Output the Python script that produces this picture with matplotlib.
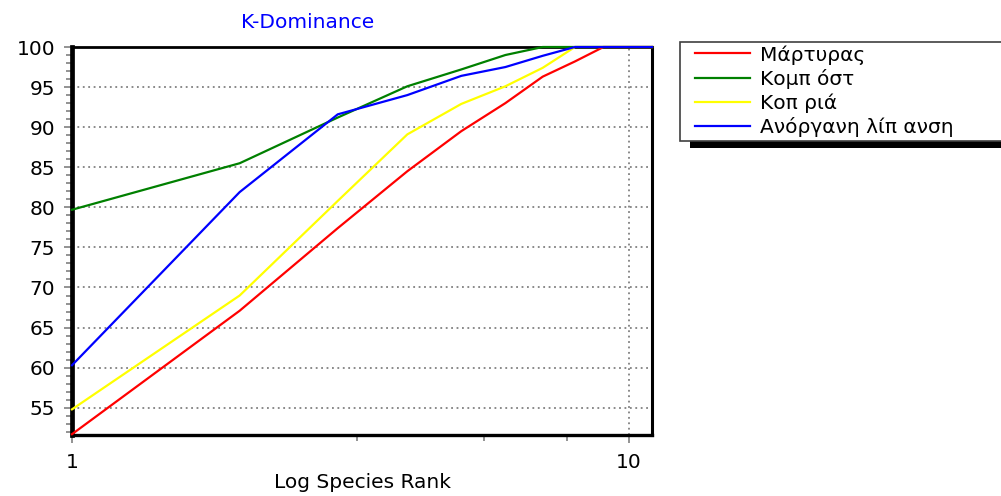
import matplotlib
matplotlib.use("Agg")
import matplotlib.pyplot as plt
from matplotlib.patches import Rectangle
from matplotlib.ticker import FixedLocator, NullFormatter, FixedFormatter

plt.rcParams['font.family'] = ['DejaVu Sans']

ranks = [1, 2, 3, 4, 5, 6, 7, 8, 9, 10, 11]
series_names = ["Μάρτυρας", "Κομπ όστ", "Κοπ ριά", "Ανόργανη λίπ ανση"]
martyras = [51.7, 67.1, 77.4, 84.5, 89.5, 93.0, 96.3, 98.2, 100, 100, 100]
kompost = [79.7, 85.5, 91.2, 95.1, 97.2, 99.0, 100, 100, 100, 100, 100]
kopria = [54.8, 69.0, 80.8, 89.1, 92.9, 95.1, 97.4, 100, 100, 100, 100]
anorgani = [60.3, 81.9, 91.6, 94.0, 96.4, 97.5, 98.9, 100, 100, 100, 100]
colors = ["#FF0000", "#008000", "#FFFF00", "#0000FF"]

y_major = [55, 60, 65, 70, 75, 80, 85, 90, 95, 100]
x_major = [1, 10]
x_minor = [3.25, 5.5, 7.75]

W, H = 1001, 496
fig = plt.figure(figsize=(W / 100, H / 100), dpi=100)
ax = fig.add_axes([72 / W, (H - 435) / H, 580 / W, (435 - 47) / H])

lines = []
for vals, c, name in zip([martyras, kompost, kopria, anorgani], colors, series_names):
    ln, = ax.plot(ranks, vals, color=c, lw=1.6, label=name, zorder=3, clip_on=False)
    lines.append(ln)

ax.set_xscale('log')
ax.set_xlim(1, 11)
ax.set_ylim(51.6, 100)

ax.xaxis.set_major_locator(FixedLocator(x_major))
ax.xaxis.set_major_formatter(FixedFormatter([str(v) for v in x_major]))
ax.xaxis.set_minor_locator(FixedLocator(x_minor))
ax.xaxis.set_minor_formatter(NullFormatter())
ax.yaxis.set_major_locator(FixedLocator(y_major))
ax.yaxis.set_minor_locator(FixedLocator([v for v in range(52, 100) if v % 5 != 0]))

ax.tick_params(axis='both', which='major', direction='out', color='#808080',
               length=6, width=1.2, labelsize=14.5, labelcolor='black')
ax.tick_params(axis='y', which='major', pad=6)
ax.tick_params(axis='x', which='major', pad=7)
ax.tick_params(axis='both', which='minor', direction='out', color='#808080',
               length=4, width=1.2)

for v in y_major[:-1]:
    ax.axhline(v, color='#808080', lw=1.3, ls=(0, (1, 2)), zorder=1)
ax.axvline(10, color='#808080', lw=1.3, ls=(0, (1, 2)), zorder=1)

ax.spines['left'].set_linewidth(3.4)
ax.spines['bottom'].set_linewidth(2.4)
ax.spines['top'].set_linewidth(2.0)
ax.spines['right'].set_linewidth(2.2)
for s in ax.spines.values():
    s.set_color('black')

ax.set_xlabel("Log Species Rank", fontsize=14.5)
ax.xaxis.set_label_coords(0.5, (435 - 483) / 388)
ax.xaxis.label.set_va('center')
fig.text(308 / W, 1 - 23 / H, "K-Dominance", color='#0000FF', fontsize=14.5,
         ha='center', va='center')

# legend frame + shadow (pixel coords)
fig.patches.append(Rectangle((690 / W, 1 - 148 / H), 330 / W, (148 - 50) / H,
                             transform=fig.transFigure, facecolor='black',
                             edgecolor='none', zorder=0))
fig.patches.append(Rectangle((680 / W, 1 - 141 / H), 340 / W, (141 - 42) / H,
                             transform=fig.transFigure, facecolor='white',
                             edgecolor='#404040', lw=1.2, zorder=1))

leg = fig.legend(handles=lines, labels=series_names, loc='upper left',
                 bbox_to_anchor=(692 / W, 1 - 42 / H), frameon=False,
                 fontsize=14.5, handlelength=2.75, handletextpad=0.5,
                 labelspacing=0.22, borderpad=0.15, borderaxespad=0)
for h in leg.legend_handles:
    h.set_linewidth(1.6)

fig.savefig("out.png", dpi=100)
